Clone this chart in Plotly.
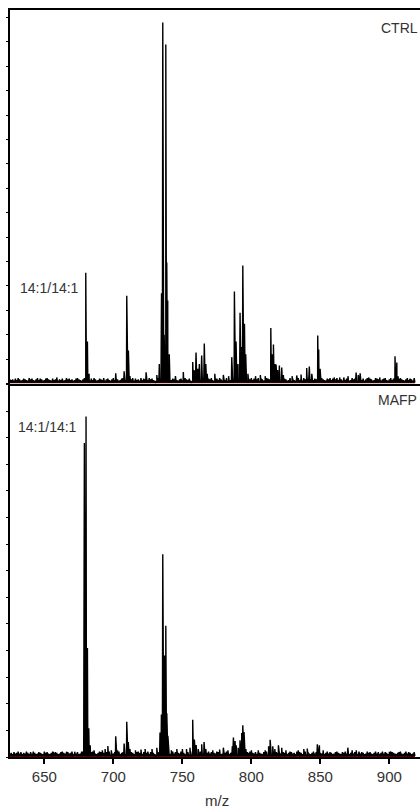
import plotly.graph_objects as go

# ---------------- data ----------------
x_tick_vals = [650, 700, 750, 800, 850, 900]
x_range = [625.1, 922.2]

ctrl_peak_mz = [659.0, 680.0, 681.2, 682.4, 701.7, 707.8, 709.7, 710.9, 712.0, 723.7,
                731.5, 733.3, 734.9, 735.8, 736.8, 738.0, 738.7, 739.4, 740.5, 745.0,
                750.7, 757.5, 758.7, 759.9, 761.2, 762.3, 764.0, 765.9, 767.0, 768.0,
                773.5, 779.7, 783.5, 785.8, 787.7, 788.9, 790.3, 791.8, 792.6, 793.8,
                795.0, 795.9, 797.5, 803.0, 806.5, 810.0, 814.1, 815.3, 816.0, 817.2,
                817.9, 819.0, 820.3, 822.0, 823.2, 829.5, 832.9, 836.0, 840.1, 842.0,
                843.8, 848.1, 848.8, 849.8, 860.0, 864.0, 867.0, 870.0, 875.9, 877.5,
                878.8, 885.0, 893.0, 904.1, 905.4, 906.3, 915.0]
ctrl_peak_int = [0.25, 4.54, 1.72, 0.40, 0.42, 0.50, 3.60, 1.35, 0.30, 0.46,
                 0.35, 0.80, 3.70, 14.80, 2.00, 13.90, 4.96, 3.40, 1.20, 0.30,
                 0.47, 0.88, 0.54, 1.27, 0.60, 0.80, 1.15, 1.64, 0.80, 0.40,
                 0.40, 0.35, 0.30, 1.08, 3.77, 1.72, 0.80, 2.90, 1.50, 4.84,
                 2.45, 1.20, 0.40, 0.30, 0.35, 0.30, 2.27, 1.20, 1.60, 0.80,
                 0.78, 0.55, 0.74, 0.65, 0.35, 0.30, 0.33, 0.37, 0.63, 0.70,
                 0.40, 1.97, 1.39, 0.60, 0.25, 0.25, 0.25, 0.30, 0.45, 0.35,
                 0.42, 0.25, 0.25, 1.12, 0.86, 0.30, 0.20]

mafp_peak_mz = [656.5, 666.0, 672.0, 678.3, 679.0, 680.2, 681.2, 682.2, 683.2, 686.0,
                692.0, 694.0, 696.0, 698.5, 701.7, 703.0, 707.8, 709.7, 710.8, 712.0,
                716.0, 720.0, 723.0, 728.0, 731.5, 733.8, 734.8, 735.8, 737.0, 738.0,
                738.7, 739.5, 742.0, 746.0, 750.0, 753.0, 755.5, 757.5, 758.7, 760.0,
                761.5, 764.0, 765.7, 767.0, 772.0, 777.0, 779.7, 783.0, 786.2, 787.0,
                788.2, 789.0, 790.5, 791.8, 793.0, 793.8, 794.7, 796.0, 800.0, 805.0,
                810.0, 812.5, 813.6, 815.5, 817.0, 819.6, 822.0, 825.0, 834.0, 838.0,
                840.5, 847.8, 849.3, 852.0, 869.9, 873.0, 876.0, 890.0, 900.0]
mafp_peak_int = [0.19, 0.20, 0.20, 0.22, 11.80, 12.80, 4.10, 1.08, 0.44, 0.25,
                 0.25, 0.30, 0.41, 0.25, 0.78, 0.25, 0.51, 1.32, 0.56, 0.30,
                 0.25, 0.28, 0.30, 0.30, 0.35, 0.92, 1.60, 7.62, 3.82, 4.93,
                 1.64, 0.80, 0.25, 0.30, 0.30, 0.30, 0.35, 1.40, 0.66, 0.45,
                 0.30, 0.48, 0.56, 0.30, 0.25, 0.28, 0.35, 0.25, 0.40, 0.73,
                 0.60, 0.44, 0.35, 0.63, 0.90, 1.19, 0.94, 0.30, 0.25, 0.25,
                 0.25, 0.40, 0.65, 0.40, 0.30, 0.44, 0.35, 0.25, 0.25, 0.30,
                 0.32, 0.48, 0.44, 0.25, 0.35, 0.25, 0.25, 0.20, 0.20]

# baseline noise level per 1 m/z starting at 625 (digit 0-9, estimated)
noise_start_mz = 625
ctrl_noise = ("3231425312432153421352431245321423513241253423124532135423142531"
              "2432513421352431245321423514231524312534213524132543124352134215"
              "3241352413254312435213425314253124351324153214352413524312543213"
              "5423152431253421352415324135243124532143524135243152431253421352"
              "41352431254321345213524312453213524315")
mafp_noise = ("2314235241325314253124321534213524312453214235132412534231245321"
              "3542314253124325134213524312453214235142315243125342135241325431"
              "2435213421532413524132543124352134253142531243513241532143524135"
              "2431254321354231524312534213524153241352431245321435241352431524"
              "31253421352413524312543213452135243124")

# ---------------- build spectra ----------------
def build(peak_mz, peak_int, noise, unit):
    pts = []
    for i, ch in enumerate(noise):
        m = noise_start_mz + i
        pts.append((m, (2.0 + int(ch) * 0.7) / unit))
        pts.append((m + 0.5, 1.0 / unit))
    for m, h in zip(peak_mz, peak_int):
        pts += [(m - 0.5, 1.8 / unit), (m, h), (m + 0.5, 1.8 / unit)]
    pts.sort()
    return [p[0] for p in pts], [p[1] for p in pts]

FONT = "Arial, Liberation Sans, sans-serif"
SPEC_FILL = "#6e0000"

cx, cy = build(ctrl_peak_mz, ctrl_peak_int, ctrl_noise, 24.4)
mx, my = build(mafp_peak_mz, mafp_peak_int, mafp_noise, 26.6)

fig = go.Figure()
fig.add_trace(go.Scatter(x=cx, y=cy, xaxis="x2", yaxis="y2", mode="lines",
                         line=dict(color="black", width=1.4), fill="tozeroy",
                         fillcolor=SPEC_FILL, hoverinfo="skip", showlegend=False))
fig.add_trace(go.Scatter(x=mx, y=my, xaxis="x", yaxis="y", mode="lines",
                         line=dict(color="black", width=1.4), fill="tozeroy",
                         fillcolor=SPEC_FILL, hoverinfo="skip", showlegend=False))

yax = dict(showline=True, linecolor="black", linewidth=2, ticks="outside",
           ticklen=2, tickwidth=1, tickcolor="black", dtick=1, tick0=0,
           showticklabels=False, showgrid=False, zeroline=False, fixedrange=True)

fig.update_layout(
    width=420, height=809,
    margin=dict(l=10, r=0, t=10, b=52),
    paper_bgcolor="white", plot_bgcolor="white",
    font=dict(family=FONT, color="#333333"),
    xaxis=dict(range=x_range, domain=[0, 1], anchor="y", showline=True,
               linecolor="black", linewidth=2, ticks="outside", ticklen=5,
               tickwidth=1.5, tickcolor="black", tickvals=x_tick_vals,
               tickfont=dict(size=15, color="#333333", family=FONT),
               showgrid=False, zeroline=False),
    xaxis2=dict(range=x_range, domain=[0, 1], anchor="y2", matches="x",
                showline=True, mirror=True, linecolor="black", linewidth=2,
                ticks="", showticklabels=False, showgrid=False, zeroline=False),
    yaxis=dict(domain=[0, 0.5], range=[0, 14.04], **yax),
    yaxis2=dict(domain=[0.5, 1], range=[0, 15.31], **yax),
)

ann_font = dict(family=FONT, size=14, color="#333333")
fig.add_annotation(text="CTRL", xref="paper", x=1.0, xanchor="right", xshift=0,
                   yref="y2", y=14.58, yanchor="middle", showarrow=False, font=ann_font)
fig.add_annotation(text="14:1/14:1", xref="x2", x=630.8, xanchor="left",
                   yref="y2", y=3.9, yanchor="middle", showarrow=False, font=ann_font)
fig.add_annotation(text="MAFP", xref="paper", x=1.0, xanchor="right", xshift=-1,
                   yref="y", y=13.41, yanchor="middle", showarrow=False, font=ann_font)
fig.add_annotation(text="14:1/14:1", xref="x", x=629.6, xanchor="left",
                   yref="y", y=12.39, yanchor="middle", showarrow=False, font=ann_font)
fig.add_annotation(text="m/z", xref="x", x=775.1, xanchor="center",
                   yref="paper", y=-0.058, yanchor="middle", showarrow=False,
                   font=dict(family=FONT, size=15, color="#333333"))

# remove the browser's default 8px body margin so the 420x809 figure fills the window
fig.write_html("out.html", config={"displayModeBar": False},
               post_script="document.body.style.margin='0';")
